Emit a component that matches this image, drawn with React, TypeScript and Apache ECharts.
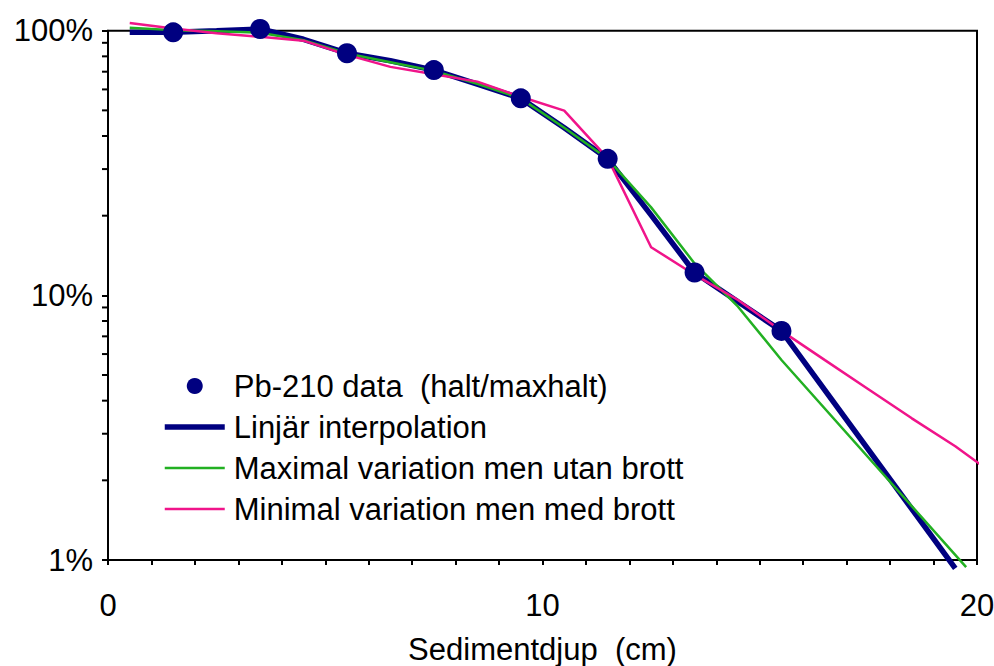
import React, { useEffect, useRef } from "react";
import * as echarts from "echarts";

const pbX = [1.5, 3.5, 5.5, 7.5, 9.5, 11.5, 13.5, 15.5];
const pbY = [98.6, 101.5, 82.2, 71.0, 55.5, 32.8, 12.2, 7.34];

const blueX = [0.5, 1.5, 2.5, 3.5, 4.5, 5.5, 6.5, 7.5, 8.5, 9.5, 10.5, 11.5, 12.5, 13.5, 14.5, 15.5, 19.5];
const blueY = [98.6, 98.6, 100, 101.5, 92.8, 82.2, 77, 71, 62.8, 55.5, 43, 32.8, 20.1, 12.2, 9.46, 7.34, 0.93];

const greenX = [0.5, 1.5, 2.5, 3.5, 4.5, 5.5, 6.5, 7.5, 8.5, 9.5, 10.5, 11.5, 12.5, 13.5, 14.5, 15.5, 19.75];
const greenY = [102.6, 100.5, 99.5, 98.3, 92, 82, 76, 70.5, 63, 55.5, 43, 32.8, 21.5, 13.2, 9.06, 5.7, 0.94];

const pinkX = [0.5, 1.5, 2.5, 3.5, 4.5, 5.5, 6.5, 7.5, 8.5, 9.5, 10.5, 11.5, 12.5, 13.5, 14.5, 15.5, 16.5, 17.5, 18.5, 19.5, 20.25];
const pinkY = [107, 102, 97.8, 94.9, 91.7, 81, 73, 68.5, 64.2, 56.3, 49.9, 33, 15.2, 11.97, 9.6, 7.34, 5.69, 4.42, 3.43, 2.69, 2.19];

const minorTicksY = [2, 3, 4, 5, 6, 7, 8, 9, 20, 30, 40, 50, 60, 70, 80, 90];
const xLabels = [0, 10, 20];

const seriesNames = [
  "Pb-210 data  (halt/maxhalt)",
  "Linjär interpolation",
  "Maximal variation men utan brott",
  "Minimal variation men med brott",
];

const FONT = 'Arial, "Liberation Sans", sans-serif';
const zip = (xs: number[], ys: number[]) => xs.map((x, i) => [x, ys[i]]);

export default function App() {
  const ref = useRef<HTMLDivElement>(null);
  useEffect(() => {
    if (!ref.current) return;
    const chart = echarts.init(ref.current, null, { renderer: "svg" });
    chart.setOption({
      animation: false,
      backgroundColor: "#ffffff",
      textStyle: { fontFamily: FONT },
      grid: {
        left: 108,
        right: 17,
        top: 30.7,
        bottom: 106,
        containLabel: false,
        outerBoundsMode: "none",
        show: true,
        borderColor: "#000",
        borderWidth: 2,
        backgroundColor: "transparent",
      },
      legend: {
        orient: "vertical",
        left: 162,
        top: 365.5,
        padding: 0,
        itemGap: 0,
        itemWidth: 60,
        itemHeight: 16,
        lineStyle: { width: "inherit" },
        data: [
          { name: seriesNames[0] },
          { name: seriesNames[1], itemStyle: { opacity: 0 }, lineStyle: { width: 5.5 } },
          { name: seriesNames[2], itemStyle: { opacity: 0 }, lineStyle: { width: 2.5 } },
          { name: seriesNames[3], itemStyle: { opacity: 0 }, lineStyle: { width: 2.5 } },
        ],
        textStyle: {
          fontFamily: FONT,
          fontSize: 31,
          color: "#000",
          lineHeight: 41,
          padding: [0, 0, 0, 4],
        },
      },
      xAxis: {
        type: "value",
        min: 0,
        max: 20,
        interval: 1,
        name: "Sedimentdjup  (cm)",
        nameLocation: "middle",
        nameGap: 74,
        nameTextStyle: { fontFamily: FONT, fontSize: 31, color: "#000" },
        axisLine: { show: true, lineStyle: { color: "#000", width: 2 } },
        axisTick: { show: true, length: 5, lineStyle: { color: "#000", width: 2 } },
        axisLabel: {
          interval: 0,
          margin: 30,
          fontFamily: FONT,
          fontSize: 31,
          color: "#000",
          formatter: (v: number) => (xLabels.includes(v) ? String(v) : ""),
        },
        splitLine: { show: false },
      },
      yAxis: {
        type: "log",
        logBase: 10,
        min: 1,
        max: 100,
        axisLine: { show: true, lineStyle: { color: "#000", width: 2 } },
        axisTick: { show: true, length: 6, lineStyle: { color: "#000", width: 2 } },
        axisLabel: {
          margin: 15,
          fontFamily: FONT,
          fontSize: 31,
          color: "#000",
          formatter: (v: number) => `${Math.round(v)}%`,
        },
        splitLine: { show: false },
      },
      series: [
        {
          type: "custom",
          name: "minorTicks",
          silent: true,
          clip: false,
          z: 1,
          data: minorTicksY.map((v) => [0, v]),
          renderItem: (params: any, api: any) => {
            const p = api.coord([0, api.value(1)]);
            return {
              type: "line",
              shape: { x1: p[0] - 6, y1: p[1], x2: p[0], y2: p[1] },
              style: { stroke: "#000", lineWidth: 2 },
            };
          },
        },
        {
          name: seriesNames[1],
          type: "line",
          data: zip(blueX, blueY),
          showSymbol: false,
          symbol: "none",
          clip: false,
          z: 2,
          itemStyle: { color: "#000080" },
          lineStyle: { color: "#000080", width: 5.5 },
        },
        {
          name: seriesNames[2],
          type: "line",
          data: zip(greenX, greenY),
          showSymbol: false,
          symbol: "none",
          clip: false,
          z: 3,
          itemStyle: { color: "#22B022" },
          lineStyle: { color: "#22B022", width: 2.5 },
        },
        {
          name: seriesNames[3],
          type: "line",
          data: zip(pinkX, pinkY),
          showSymbol: false,
          symbol: "none",
          clip: false,
          z: 4,
          itemStyle: { color: "#F0148A" },
          lineStyle: { color: "#F0148A", width: 2.5 },
        },
        {
          name: seriesNames[0],
          type: "scatter",
          data: zip(pbX, pbY),
          symbol: "circle",
          symbolSize: 20,
          clip: false,
          z: 5,
          itemStyle: { color: "#000080", opacity: 1 },
        },
      ],
    });
    return () => chart.dispose();
  }, []);
  return (
    <div
      ref={ref}
      style={{ position: "fixed", left: 0, top: 0, width: 994, height: 666, background: "#fff" }}
    />
  );
}
